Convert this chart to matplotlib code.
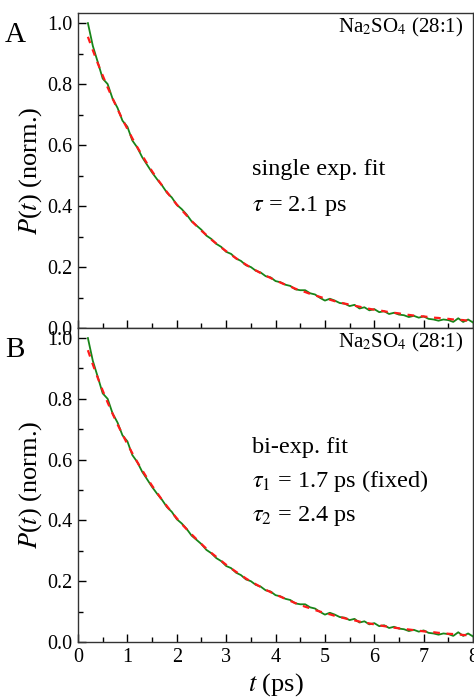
import matplotlib
matplotlib.use('Agg')
import matplotlib.pyplot as plt
from matplotlib.ticker import MultipleLocator

# time axis (ps) and values
t = [0.2, 0.3, 0.4, 0.5, 0.6, 0.7, 0.8, 0.9, 1.0, 1.1, 1.2, 1.3, 1.4, 1.5, 1.6, 1.7, 1.8, 1.9,
     2.0, 2.1, 2.2, 2.3, 2.4, 2.5, 2.6, 2.7, 2.8, 2.9, 3.0, 3.1, 3.2, 3.3, 3.4, 3.5, 3.6, 3.7,
     3.8, 3.9, 4.0, 4.1, 4.2, 4.3, 4.4, 4.5, 4.6, 4.7, 4.8, 4.9, 5.0, 5.1, 5.2, 5.3, 5.4, 5.5,
     5.6, 5.7, 5.8, 5.9, 6.0, 6.1, 6.2, 6.3, 6.4, 6.5, 6.6, 6.7, 6.8, 6.9, 7.0, 7.1, 7.2, 7.3,
     7.4, 7.5, 7.6, 7.7, 7.8, 7.9, 8.0]

p_data = [1.000, 0.925, 0.872, 0.818, 0.800, 0.752, 0.722, 0.680, 0.660, 0.615, 0.592, 0.560,
          0.535, 0.510, 0.488, 0.468, 0.444, 0.428, 0.404, 0.390, 0.372, 0.350, 0.336, 0.322,
          0.303, 0.292, 0.276, 0.266, 0.250, 0.243, 0.228, 0.220, 0.206, 0.200, 0.188, 0.182,
          0.170, 0.166, 0.154, 0.150, 0.142, 0.138, 0.127, 0.124, 0.124, 0.114, 0.110, 0.099,
          0.090, 0.096, 0.090, 0.082, 0.080, 0.072, 0.076, 0.064, 0.068, 0.058, 0.062, 0.052,
          0.055, 0.046, 0.050, 0.044, 0.042, 0.036, 0.040, 0.034, 0.038, 0.030, 0.028, 0.024,
          0.028, 0.026, 0.020, 0.032, 0.020, 0.028, 0.018]

fit_single = [0.955, 0.911, 0.868, 0.828, 0.789, 0.753, 0.718, 0.684, 0.653, 0.622, 0.593,
              0.566, 0.539, 0.514, 0.490, 0.468, 0.446, 0.425, 0.405, 0.387, 0.369, 0.351,
              0.335, 0.319, 0.305, 0.290, 0.277, 0.264, 0.252, 0.240, 0.229, 0.218, 0.208,
              0.198, 0.189, 0.180, 0.172, 0.164, 0.156, 0.149, 0.142, 0.136, 0.129, 0.123,
              0.118, 0.112, 0.107, 0.102, 0.097, 0.093, 0.088, 0.084, 0.080, 0.077, 0.073,
              0.070, 0.066, 0.063, 0.060, 0.058, 0.055, 0.052, 0.050, 0.048, 0.045, 0.043,
              0.041, 0.039, 0.038, 0.036, 0.034, 0.033, 0.031, 0.030, 0.028, 0.027, 0.026,
              0.024, 0.023]

fit_bi = [0.960, 0.913, 0.869, 0.827, 0.788, 0.751, 0.716, 0.683, 0.651, 0.621, 0.592,
          0.565, 0.539, 0.514, 0.491, 0.468, 0.447, 0.426, 0.407, 0.388, 0.371, 0.354,
          0.338, 0.322, 0.307, 0.293, 0.280, 0.267, 0.254, 0.242, 0.231, 0.220, 0.209,
          0.199, 0.190, 0.181, 0.172, 0.164, 0.156, 0.149, 0.142, 0.135, 0.128, 0.122,
          0.116, 0.111, 0.105, 0.100, 0.095, 0.091, 0.086, 0.082, 0.078, 0.074, 0.071,
          0.067, 0.064, 0.061, 0.058, 0.055, 0.052, 0.050, 0.047, 0.045, 0.043, 0.041,
          0.039, 0.037, 0.035, 0.033, 0.032, 0.030, 0.029, 0.027, 0.026, 0.025, 0.023,
          0.022, 0.021]

plt.rcParams['font.family'] = ['Liberation Serif', 'DejaVu Serif']
plt.rcParams['mathtext.fontset'] = 'stix'

fig = plt.figure(figsize=(4.74, 7.0), dpi=100)
ax_a = fig.add_axes([0.1646, 0.5314, 0.8334, 0.4500])
ax_b = fig.add_axes([0.1646, 0.0829, 0.8334, 0.4485])

panels = [
    (ax_a, fit_single, 'A', ['single exp. fit', r'$\tau$ = 2.1 ps'], [0.52, 0.40]),
    (ax_b, fit_bi, 'B', ['bi-exp. fit', r'$\tau_1$ = 1.7 ps (fixed)', r'$\tau_2$ = 2.4 ps'],
     [0.64, 0.53, 0.415]),
]

for ax, fit, letter, notes, ys in panels:
    ax.plot(t, p_data, color='#188418', lw=1.3, zorder=3)
    ax.plot(t, fit, color='#ff1a1a', lw=1.6, ls=(0, (3, 3)), zorder=4)
    ax.set_xlim(0, 8)
    ax.set_ylim(0, 1.033)
    ax.xaxis.set_major_locator(MultipleLocator(1))
    ax.xaxis.set_minor_locator(MultipleLocator(0.5))
    ax.yaxis.set_major_locator(MultipleLocator(0.2))
    ax.yaxis.set_minor_locator(MultipleLocator(0.1))
    ax.tick_params(which='both', direction='in', top=False, right=False, labelsize=14.5)
    ax.tick_params(which='major', length=6, width=1, pad=4)
    ax.tick_params(which='minor', length=3.5, width=1)
    ax.set_yticks([0.0, 0.2, 0.4, 0.6, 0.8, 1.0])
    ax.set_yticklabels(['0.0', '0.2', '0.4', '0.6', '0.8', '1.0'])
    for s in ax.spines.values():
        s.set_linewidth(1.0)
        s.set_color('#333333')
    ax.set_ylabel(r'$P$($t$) (norm.)', fontsize=19, labelpad=2)
    ax.text(-0.185, 0.93, letter, transform=ax.transAxes, fontsize=21, va='center', ha='left')
    ax.text(0.975, 0.955, r'Na$_2$SO$_4$ (28:1)', transform=ax.transAxes, fontsize=15,
            ha='right', va='center')
    for note, y in zip(notes, ys):
        ax.text(3.53, y, note, fontsize=17.5, ha='left', va='center')

ax_a.tick_params(labelbottom=False)
ax_b.set_xlabel(r'$t$ (ps)', fontsize=19, labelpad=3)

fig.savefig('out.png', dpi=100)
